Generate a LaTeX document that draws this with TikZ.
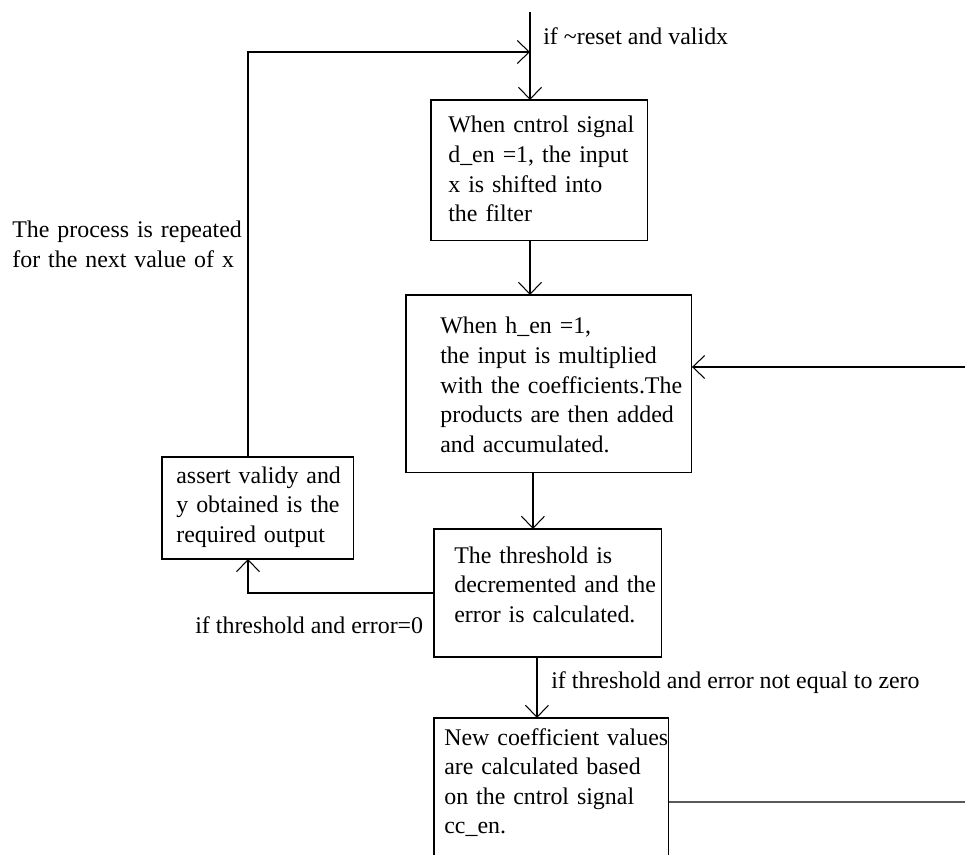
\documentclass[tikz,border=0pt]{standalone}
\usepackage{fontspec}
\setmainfont{Liberation Serif}
\usetikzlibrary{arrows.meta}

\tikzset{
    stage/.style={draw, line width=0.6pt, rectangle, anchor=north west, inner sep=0pt, outer sep=0pt},
    boxtext/.style={anchor=base west, inner sep=0pt, align=left, text width=6cm, font=\fontsize{13.6}{16.8}\selectfont},
    cond/.style={anchor=base west, inner sep=0pt, font=\fontsize{13.6}{16.8}\selectfont},
    flow/.style={line width=0.6pt, -{Straight Barb[length=2.4mm, width=4.6mm]}},
    wire/.style={line width=0.6pt}
}

\begin{document}
\begin{tikzpicture}[x=0.02cm, y=-0.02cm]
    \clip (0,0) rectangle (965,855);

    % Boxes
    \node[stage, minimum width=4.34cm, minimum height=2.82cm] (load) at (431,100) {};
    \node[stage, minimum width=5.72cm, minimum height=3.56cm] (mac) at (406,295) {};
    \node[stage, minimum width=4.56cm, minimum height=2.56cm] (thr) at (434,529) {};
    \node[stage, minimum width=4.70cm, minimum height=3.36cm] (upd) at (434,718) {};
    \node[stage, minimum width=3.84cm, minimum height=2.04cm] (valid) at (162,457) {};

    % Box texts
    \node[boxtext] (loadT) at ([shift={(17,33)}]load.north west)
        {When cntrol signal\\ d\_en =1, the input\\ x is shifted into\\ the filter};
    \node[boxtext] (macT) at ([shift={(34,39)}]mac.north west)
        {When h\_en =1,\\ the input is multiplied\\ with the coefficients.The\\ products are then added\\ and accumulated.};
    \node[boxtext] (thrT) at ([shift={(20,34)}]thr.north west)
        {The threshold is\\ decremented and the\\ error is calculated.};
    \node[boxtext] (updT) at ([shift={(10,27)}]upd.north west)
        {New coefficient values\\ are calculated based\\ on the cntrol signal\\ cc\_en.};
    \node[boxtext] (validT) at ([shift={(14,26)}]valid.north west)
        {assert validy and\\ y obtained is the\\ required output};

    % Conditions
    \node[cond] (reset) at (543,45) {if \textasciitilde reset and validx};
    \node[boxtext] (repeat) at (12,238) {The process is repeated\\ for the next value of x};
    \node[cond] (zero) at (195,633) {if threshold and error=0};
    \node[cond] (nonzero) at (551,688) {if threshold and error not equal to zero};

    % Connectors
    \coordinate (top) at (530,12);
    \coordinate (join) at (530,52);
    \coordinate (back) at (248,52);
    \coordinate (edgeIn) at (965,367);
    \coordinate (edgeOut) at (965,802);

    \draw[flow] (top) -- (top |- load.north);
    \draw[flow] (back |- valid.north) -- (back) -- (join);
    \draw[flow] (load.south -| top) -- (mac.north -| top);
    \draw[flow] ([xshift=-0.32cm]mac.south) -- ([xshift=-0.32cm]mac.south |- thr.north);
    \draw[flow] ([xshift=-0.22cm]thr.south) -- ([xshift=-0.22cm]thr.south |- upd.north);
    \draw[flow] (thr.west) -| (back |- valid.south);
    \draw[flow] (edgeIn) -- (edgeIn -| mac.east);
    \draw[wire] (upd.east) -- (edgeOut);
\end{tikzpicture}
\end{document}
